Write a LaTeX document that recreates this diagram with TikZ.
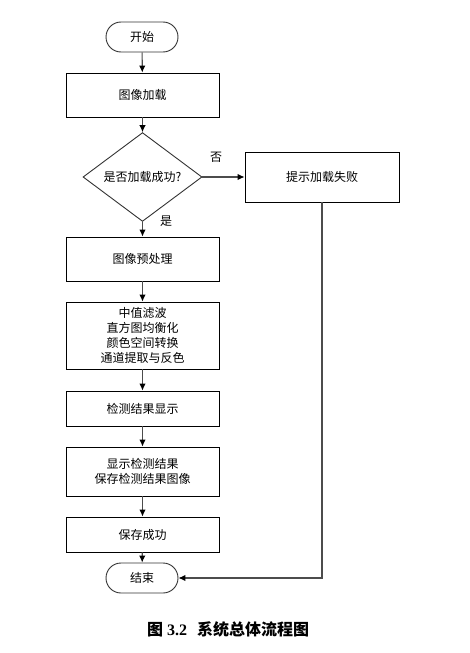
\documentclass[tikz,border=0pt]{standalone}
\usepackage{fontspec}
\setmainfont{Liberation Serif}
\newfontfamily\cjk{Noto Sans CJK SC}
\usepackage{tikz}
\usetikzlibrary{shapes.geometric, arrows.meta, positioning}
\tikzset{
  procbox/.style={
    draw=black, line width=0.9pt, align=center, fill=white,
    font=\cjk\fontsize{12}{15}\selectfont,
    minimum width=153pt, inner sep=0pt
  },
  termbox/.style={
    draw=black!80, line width=0.9pt, rounded corners=15pt, fill=white,
    font=\cjk\fontsize{12}{15}\selectfont,
    minimum width=72pt, minimum height=30pt, inner sep=0pt
  },
  decbox/.style={
    diamond, draw=black!80, line width=0.9pt, fill=white,
    font=\cjk\fontsize{12}{15}\selectfont,
    minimum width=119pt, minimum height=76pt, inner sep=0pt
  },
  flowarrow/.style={
    -{Latex[length=7pt,width=6.5pt,black]}, line width=1.1pt, color=gray!60!black
  },
  flowlabel/.style={
    font=\cjk\fontsize{12}{15}\selectfont
  },
}
\begin{document}
\begin{tikzpicture}[x=1pt, y=-1pt]
  \useasboundingbox (0,0) rectangle (469,653);

  % === Main path ===
  \node[termbox] (start) at (142, 37) {开始};
  \node[procbox, minimum height=44pt] (load) at (142.5, 95) {图像加载};
  \node[decbox] (ok) at (142.5, 177) {是否加载成功?};
  \node[procbox, minimum height=44pt] (prep) at (142.5, 259) {图像预处理};
  \node[procbox, minimum height=67pt] (steps) at (142.5, 335.5)
    {中值滤波\\直方图均衡化\\颜色空间转换\\通道提取与反色};
  \node[procbox, minimum height=35pt] (show) at (142.5, 408.5) {检测结果显示};
  \node[procbox, minimum height=49pt] (save) at (142.5, 471.5)
    {显示检测结果\\保存检测结果图像};
  \node[procbox, minimum height=35pt] (done) at (142.5, 534.5) {保存成功};
  \node[termbox] (stop) at (142, 578) {结束};

  % === Failure branch ===
  \node[procbox, minimum width=154pt, minimum height=50pt] (fail) at (322, 177)
    {提示加载失败};
  \coordinate (corner) at (fail.south |- stop.east);

  % === Arrows ===
  \draw[flowarrow] (start) -- (load);
  \draw[flowarrow] (load) -- (ok);
  \draw[flowarrow] (ok) -- (prep);
  \draw[flowarrow] (prep) -- (steps);
  \draw[flowarrow] (steps) -- (show);
  \draw[flowarrow] (show) -- (save);
  \draw[flowarrow] (save) -- (done);
  \draw[flowarrow] (done) -- (stop);
  \draw[flowarrow] (ok.east) -- (fail.west);
  \draw[flowarrow] (fail.south) -- (corner) -- (stop.east);

  % === Labels ===
  \node[flowlabel] (nolbl) at (216, 157) {否};
  \node[flowlabel] (yeslbl) at (166, 221) {是};

  % === Caption ===
  \node[font=\bfseries\fontsize{16}{18}\selectfont] (caption) at (228, 629)
    {{\cjk 图}\hspace{4pt}3.2\hspace{10pt}{\cjk 系统总体流程图}};
\end{tikzpicture}
\end{document}
